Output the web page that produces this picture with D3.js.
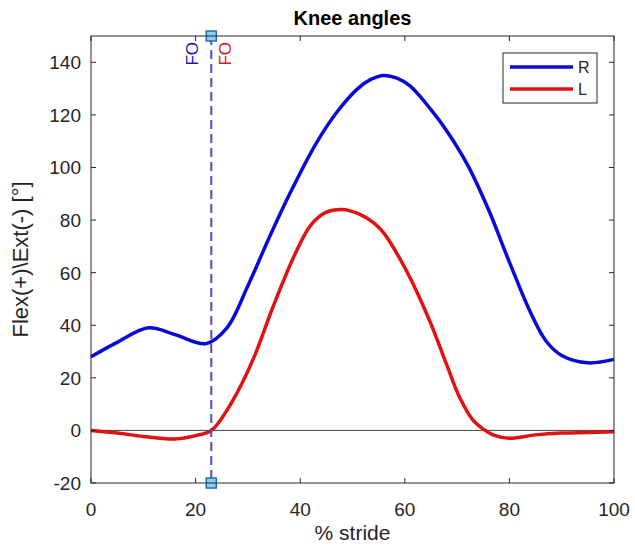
<!DOCTYPE html>
<html lang="en">
<head>
<meta charset="utf-8">
<title>Knee angles</title>
<script src="https://d3js.org/d3.v7.min.js"></script>
<style>
  body { margin: 0; background: #fff; }
  text { font-family: "Liberation Sans", Arial, sans-serif; fill: #262626; }
</style>
</head>
<body>
<div id="chart"></div>
<script>

var w = 635;
var h = 554;

// data
var strideR = [0, 5, 11, 16, 22, 26, 30, 34, 38, 43, 47, 51, 53.5, 56, 58.5, 61, 65, 68, 72, 76, 80, 84, 87, 90, 95, 100];
var kneeR   = [28, 33.5, 39, 36.5, 33, 39, 55, 73, 90, 109, 121, 130, 133.5, 135, 134, 131, 122, 114, 101, 84, 64, 45, 34, 28.5, 25.7, 27];
var strideL = [0, 5, 10, 16, 20, 23, 27, 31, 35, 39, 42, 45, 48, 51, 54, 56, 59, 62, 65, 68, 70.5, 73, 75, 77, 80, 85, 90, 95, 100];
var kneeL   = [0, -1, -2.3, -3.3, -2, 0, 11, 27, 48, 67, 78, 83, 84, 82.5, 79, 75, 65.5, 54, 40.5, 25, 12.5, 4, 0.5, -1.8, -3, -1.7, -1, -0.8, -0.5];
var seriesNames = ["R", "L"];
var footOff = [23, 23];   // FO for R and L
var xTicks = [0, 20, 40, 60, 80, 100];
var yTicks = [-20, 0, 20, 40, 60, 80, 100, 120, 140];

var margin = {top: 36, right: 21, bottom: 71, left: 91};

var svg = d3.select("#chart").append("svg")
  .attr("width", w).attr("height", h);

var x = d3.scaleLinear().domain([0, 100]).range([margin.left, w - margin.right]);
var y = d3.scaleLinear().domain([-20, 150]).range([h - margin.bottom, margin.top]);

var colors = ["#0a0ad8", "#e01212"];

var line = d3.line()
  .x(function(d) { return x(d[0]); })
  .y(function(d) { return y(d[1]); })
  .curve(d3.curveCatmullRom.alpha(0.5));

// zero line
svg.append("line")
  .attr("x1", x(0)).attr("x2", x(100))
  .attr("y1", y(0)).attr("y2", y(0))
  .attr("stroke", "#444").attr("stroke-width", 1);

// series
var series = [d3.zip(strideR, kneeR), d3.zip(strideL, kneeL)];
svg.selectAll("path.curve")
  .data(series)
  .enter().append("path")
  .attr("class", "curve")
  .attr("d", line)
  .attr("fill", "none")
  .attr("stroke", function(d, i) { return colors[i]; })
  .attr("stroke-width", 3.5);

// foot off marker
svg.append("line")
  .attr("x1", x(footOff[0])).attr("x2", x(footOff[0]))
  .attr("y1", y(150)).attr("y2", y(-20))
  .attr("stroke", "#5548cc").attr("stroke-width", 2)
  .attr("stroke-dasharray", "9,5");

svg.selectAll("rect.fo")
  .data([150, -20])
  .enter().append("rect")
  .attr("class", "fo")
  .attr("x", x(footOff[0]) - 5).attr("y", function(d) { return y(d) - 5; })
  .attr("width", 10).attr("height", 10)
  .attr("fill", "#8fd0f0").attr("stroke", "#1f6fa6").attr("stroke-width", 1.5);

svg.selectAll("text.fo")
  .data(footOff)
  .enter().append("text")
  .attr("class", "fo")
  .attr("transform", function(d, i) {
    var px = x(d) + (i === 0 ? -13 : 20);
    return "translate(" + px + "," + (margin.top + 6) + ") rotate(-90)";
  })
  .attr("text-anchor", "end")
  .style("font-size", "17px")
  .style("fill", function(d, i) { return i === 0 ? "#1a1aa8" : "#d02020"; })
  .text("FO");

// axes box with inward ticks
var axis = svg.append("g").attr("class", "axes");
axis.append("rect")
  .attr("x", x(0)).attr("y", y(150))
  .attr("width", x(100) - x(0)).attr("height", y(-20) - y(150))
  .attr("fill", "none").attr("stroke", "#262626").attr("stroke-width", 1);

var tl = 5;
xTicks.forEach(function(t) {
  axis.append("line").attr("x1", x(t)).attr("x2", x(t)).attr("y1", y(-20)).attr("y2", y(-20) - tl).attr("stroke", "#262626");
  axis.append("line").attr("x1", x(t)).attr("x2", x(t)).attr("y1", y(150)).attr("y2", y(150) + tl).attr("stroke", "#262626");
  axis.append("text").attr("x", x(t)).attr("y", y(-20) + 33)
    .attr("text-anchor", "middle").style("font-size", "19px").text(t);
});
yTicks.forEach(function(t) {
  axis.append("line").attr("x1", x(0)).attr("x2", x(0) + tl).attr("y1", y(t)).attr("y2", y(t)).attr("stroke", "#262626");
  axis.append("line").attr("x1", x(100)).attr("x2", x(100) - tl).attr("y1", y(t)).attr("y2", y(t)).attr("stroke", "#262626");
  axis.append("text").attr("x", x(0) - 10).attr("y", y(t) + 7)
    .attr("text-anchor", "end").style("font-size", "19px").text(t);
});

// labels
svg.append("text").attr("x", (x(0) + x(100)) / 2).attr("y", 25)
  .attr("text-anchor", "middle").style("font-size", "20px").style("font-weight", "bold")
  .style("fill", "#000").text("Knee angles");
svg.append("text").attr("x", (x(0) + x(100)) / 2).attr("y", 540)
  .attr("text-anchor", "middle").style("font-size", "21px").text("% stride");
svg.append("text")
  .attr("transform", "translate(28," + ((y(-20) + y(150)) / 2) + ") rotate(-90)")
  .attr("text-anchor", "middle").style("font-size", "22px").text("Flex(+)\\Ext(-) [°]");

// legend
var legend = svg.append("g").attr("transform", "translate(503,53)");
legend.append("rect").attr("width", 94).attr("height", 50)
  .attr("fill", "#fff").attr("stroke", "#262626").attr("stroke-width", 1);
seriesNames.forEach(function(n, i) {
  var ly = 14 + i * 22;
  legend.append("line").attr("x1", 7).attr("x2", 70).attr("y1", ly).attr("y2", ly)
    .attr("stroke", colors[i]).attr("stroke-width", 3.5);
  legend.append("text").attr("x", 75).attr("y", ly + 6).style("font-size", "16px").text(n);
});

</script>
</body>
</html>
